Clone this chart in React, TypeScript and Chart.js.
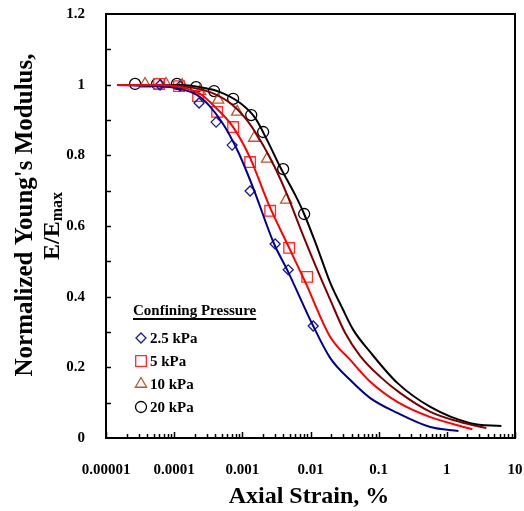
import React, { useEffect, useRef } from 'react';
import { Chart, registerables } from 'chart.js';

Chart.register(...registerables);

// ---- axis ticks ----
const xTickValues = [0.00001, 0.0001, 0.001, 0.01, 0.1, 1, 10];
const xTickLabels = ['0.00001', '0.0001', '0.001', '0.01', '0.1', '1', '10'];
const yTickLabels = ['0', '0.2', '0.4', '0.6', '0.8', '1', '1.2'];

const legendTitle = 'Confining Pressure';
const seriesNames = ['2.5 kPa', '5 kPa', '10 kPa', '20 kPa'];

// ---- measured points ----
const strain25 = [0.000062, 0.000122, 0.000232, 0.000412, 0.000708, 0.0013, 0.00303, 0.00471, 0.01096];
const ratio25 = [0.999, 0.996, 0.948, 0.894, 0.829, 0.699, 0.549, 0.476, 0.317];

const strain5 = [0.00006, 0.000118, 0.000224, 0.000427, 0.000733, 0.0013, 0.00256, 0.00486, 0.00894];
const ratio5 = [1.002, 0.996, 0.968, 0.923, 0.88, 0.781, 0.643, 0.538, 0.456];

const strain10 = [0.0000374, 0.000076, 0.000131, 0.00024, 0.000442, 0.00084, 0.00149, 0.00231, 0.0044];
const ratio10 = [1.002, 1.002, 0.999, 0.982, 0.957, 0.923, 0.849, 0.79, 0.674];

const strain20 = [0.0000267, 0.0000561, 0.00011, 0.00021, 0.000385, 0.000733, 0.00135, 0.00202, 0.00397, 0.00807];
const ratio20 = [1.002, 1.002, 1.002, 0.993, 0.982, 0.96, 0.914, 0.866, 0.761, 0.634];

// ---- fitted curves ----
const curveStrain25 = [0.0000145, 0.0000442, 0.000103, 0.00024, 0.000488, 0.000867, 0.00144, 0.00293, 0.00455, 0.01096, 0.0195, 0.0383, 0.0753, 0.1876, 0.573, 1.48];
const curveRatio25 = [0.999, 0.996, 0.991, 0.965, 0.897, 0.81, 0.708, 0.549, 0.476, 0.317, 0.226, 0.164, 0.113, 0.071, 0.031, 0.02];

const curveStrain5 = [0.0000145, 0.0000621, 0.000122, 0.00024, 0.000427, 0.000733, 0.0013, 0.00239, 0.00486, 0.00836, 0.0195, 0.0383, 0.0753, 0.1876, 0.573, 2.37];
const curveRatio5 = [0.999, 0.999, 0.993, 0.974, 0.931, 0.88, 0.793, 0.665, 0.538, 0.442, 0.286, 0.221, 0.159, 0.102, 0.059, 0.025];

const curveStrain10 = [0.0000145, 0.0000735, 0.000171, 0.000337, 0.000662, 0.0011, 0.00183, 0.00303, 0.00455, 0.00706, 0.01172, 0.0195, 0.0323, 0.0537, 0.1057, 0.2077, 0.573, 1.58, 3.8];
const curveRatio10 = [0.999, 0.999, 0.993, 0.979, 0.948, 0.906, 0.843, 0.764, 0.688, 0.594, 0.49, 0.391, 0.297, 0.232, 0.173, 0.127, 0.074, 0.045, 0.028];

const curveStrain20 = [0.0000145, 0.0000442, 0.000122, 0.00024, 0.000472, 0.000929, 0.00154, 0.00231, 0.00359, 0.00596, 0.00807, 0.01297, 0.0195, 0.0292, 0.0424, 0.0753, 0.1876, 0.573, 2.21, 6.31];
const curveRatio20 = [0.999, 0.999, 0.999, 0.993, 0.979, 0.948, 0.906, 0.843, 0.767, 0.688, 0.634, 0.532, 0.439, 0.368, 0.306, 0.243, 0.156, 0.088, 0.042, 0.034];

const FONT = '"Liberation Serif", "Times New Roman", serif';

const lineColors = ['#000090', '#ff0000', '#800000', '#000000'];
const markerColors = ['#1a1a99', '#ff2a2a', '#b8582a', '#000000'];
const markerStyles = ['rectRot', 'rect', 'triangle', 'circle'];
const markerRadii = [5, 7.5, 6.5, 5.5];
// drawing order of the fitted curves, top-most first
const curveOrder = [1, 0, 2, 3];

const pts = (xs: number[], ys: number[]) => xs.map((x, i) => ({ x, y: ys[i] }));

function drawMarker(ctx: CanvasRenderingContext2D, style: string, x: number, y: number, r: number) {
  ctx.beginPath();
  if (style === 'rectRot') {
    ctx.moveTo(x, y - r);
    ctx.lineTo(x + r, y);
    ctx.lineTo(x, y + r);
    ctx.lineTo(x - r, y);
    ctx.closePath();
  } else if (style === 'rect') {
    const s = r * Math.SQRT1_2;
    ctx.rect(x - s, y - s, 2 * s, 2 * s);
  } else if (style === 'triangle') {
    const a = (2 * Math.PI) / 3;
    ctx.moveTo(x, y - r);
    ctx.lineTo(x + Math.sin(a) * r, y - Math.cos(a) * r);
    ctx.lineTo(x - Math.sin(a) * r, y - Math.cos(a) * r);
    ctx.closePath();
  } else {
    ctx.arc(x, y, r, 0, Math.PI * 2);
  }
  ctx.stroke();
}

const decorPlugin = {
  id: 'decor',
  afterDraw(chart: any) {
    const ctx: CanvasRenderingContext2D = chart.ctx;
    const { left, right, top, bottom } = chart.chartArea;
    const xs = chart.scales.x;
    const ys = chart.scales.y;
    ctx.save();
    // frame
    ctx.strokeStyle = '#000';
    ctx.lineWidth = 2;
    ctx.strokeRect(left, top, right - left, bottom - top);
    // y ticks (inside)
    ctx.lineWidth = 1.5;
    for (let i = 1; i < 12; i++) {
      const py = Math.round(ys.getPixelForValue(i / 10)) + 0.5;
      ctx.beginPath();
      ctx.moveTo(left, py);
      ctx.lineTo(left + 5, py);
      ctx.stroke();
    }
    // x ticks (inside)
    for (let d = -5; d <= 1; d++) {
      for (let m = 1; m <= 9; m++) {
        const v = m * Math.pow(10, d);
        if (v > 10 + 1e-9) break;
        const px = Math.round(xs.getPixelForValue(v)) + 0.5;
        const len = m === 1 ? 6 : 4;
        ctx.beginPath();
        ctx.moveTo(px, bottom);
        ctx.lineTo(px, bottom - len);
        ctx.stroke();
      }
    }
    // y title
    ctx.fillStyle = '#000';
    ctx.textAlign = 'center';
    ctx.textBaseline = 'middle';
    ctx.save();
    ctx.translate(26, 215);
    ctx.rotate(-Math.PI / 2);
    ctx.font = `bold 25px ${FONT}`;
    ctx.fillText("Normalized Young's Modulus,", 0, 0);
    ctx.restore();
    ctx.save();
    ctx.translate(53, 226);
    ctx.rotate(-Math.PI / 2);
    ctx.font = `bold 24px ${FONT}`;
    const mainT = 'E/E';
    const w1 = ctx.measureText(mainT).width;
    ctx.font = `bold 16px ${FONT}`;
    const subT = 'max';
    const w2 = ctx.measureText(subT).width;
    const start = -(w1 + w2) / 2;
    ctx.textAlign = 'left';
    ctx.font = `bold 24px ${FONT}`;
    ctx.fillText(mainT, start, 0);
    ctx.font = `bold 16px ${FONT}`;
    ctx.fillText(subT, start + w1, 5);
    ctx.restore();
    // x title
    ctx.textAlign = 'center';
    ctx.font = `bold 24px ${FONT}`;
    ctx.fillText('Axial Strain, %', 309, 497);
    // legend
    ctx.textAlign = 'left';
    ctx.font = `bold 15px ${FONT}`;
    ctx.fillText(legendTitle, 133, 311);
    const tw = ctx.measureText(legendTitle).width;
    ctx.lineWidth = 2;
    ctx.beginPath();
    ctx.moveTo(133, 319);
    ctx.lineTo(133 + tw, 319);
    ctx.stroke();
    const ly = [338, 361, 384, 407];
    for (let i = 0; i < 4; i++) {
      ctx.strokeStyle = markerColors[i];
      ctx.lineWidth = 1.3;
      drawMarker(ctx, markerStyles[i], 141, ly[i], markerRadii[i]);
      ctx.fillStyle = '#000';
      ctx.fillText(seriesNames[i], 150, ly[i] + 1);
    }
    ctx.restore();
  },
};

export default function App() {
  const ref = useRef<HTMLCanvasElement | null>(null);
  useEffect(() => {
    if (!ref.current) return;
    const curves = [
      pts(curveStrain25, curveRatio25),
      pts(curveStrain5, curveRatio5),
      pts(curveStrain10, curveRatio10),
      pts(curveStrain20, curveRatio20),
    ];
    const markers = [
      pts(strain25, ratio25),
      pts(strain5, ratio5),
      pts(strain10, ratio10),
      pts(strain20, ratio20),
    ];
    const datasets: any[] = [];
    for (const i of curveOrder) {
      datasets.push({
        label: seriesNames[i] + ' fit',
        data: curves[i],
        showLine: true,
        borderColor: lineColors[i],
        borderWidth: 2,
        pointRadius: 0,
        fill: false,
        cubicInterpolationMode: 'monotone',
      });
    }
    for (let i = 0; i < 4; i++) {
      datasets.push({
        label: seriesNames[i],
        data: markers[i],
        showLine: false,
        pointStyle: markerStyles[i],
        pointRadius: markerRadii[i],
        pointBorderColor: markerColors[i],
        pointBackgroundColor: 'rgba(0,0,0,0)',
        pointBorderWidth: 1.3,
        borderColor: markerColors[i],
        backgroundColor: 'rgba(0,0,0,0)',
      });
    }
    const chart = new Chart(ref.current, {
      type: 'scatter',
      data: { datasets },
      plugins: [decorPlugin],
      options: {
        animation: false,
        responsive: false,
        devicePixelRatio: 1,
        layout: { padding: { left: 0, top: 14, right: 9, bottom: 0 } },
        plugins: { legend: { display: false }, tooltip: { enabled: false } },
        scales: {
          x: {
            type: 'logarithmic',
            min: 0.00001,
            max: 10,
            grid: { display: false },
            border: { display: false },
            afterBuildTicks: (s: any) => {
              s.ticks = xTickValues.map((v) => ({ value: v }));
            },
            afterFit: (s: any) => {
              s.height = 73;
              s.paddingLeft = 0;
              s.paddingRight = 0;
            },
            ticks: {
              autoSkip: false,
              maxRotation: 0,
              padding: 15,
              color: '#000',
              font: { family: FONT, size: 15, weight: 'bold' },
              callback: (_v: any, i: number) => xTickLabels[i],
            },
          },
          y: {
            min: 0,
            max: 1.2,
            grid: { display: false },
            border: { display: false },
            afterFit: (s: any) => {
              s.width = 106;
              s.paddingTop = 0;
              s.paddingBottom = 0;
            },
            ticks: {
              stepSize: 0.2,
              padding: 13,
              color: '#000',
              font: { family: FONT, size: 15, weight: 'bold' },
              callback: (_v: any, i: number) => yTickLabels[i],
            },
          },
        },
      } as any,
    });
    return () => chart.destroy();
  }, []);
  return (
    <div style={{ position: 'fixed', left: 0, top: 0, width: 524, height: 511, background: '#fff' }}>
      <canvas ref={ref} width={524} height={511} style={{ width: 524, height: 511, display: 'block' }} />
    </div>
  );
}
